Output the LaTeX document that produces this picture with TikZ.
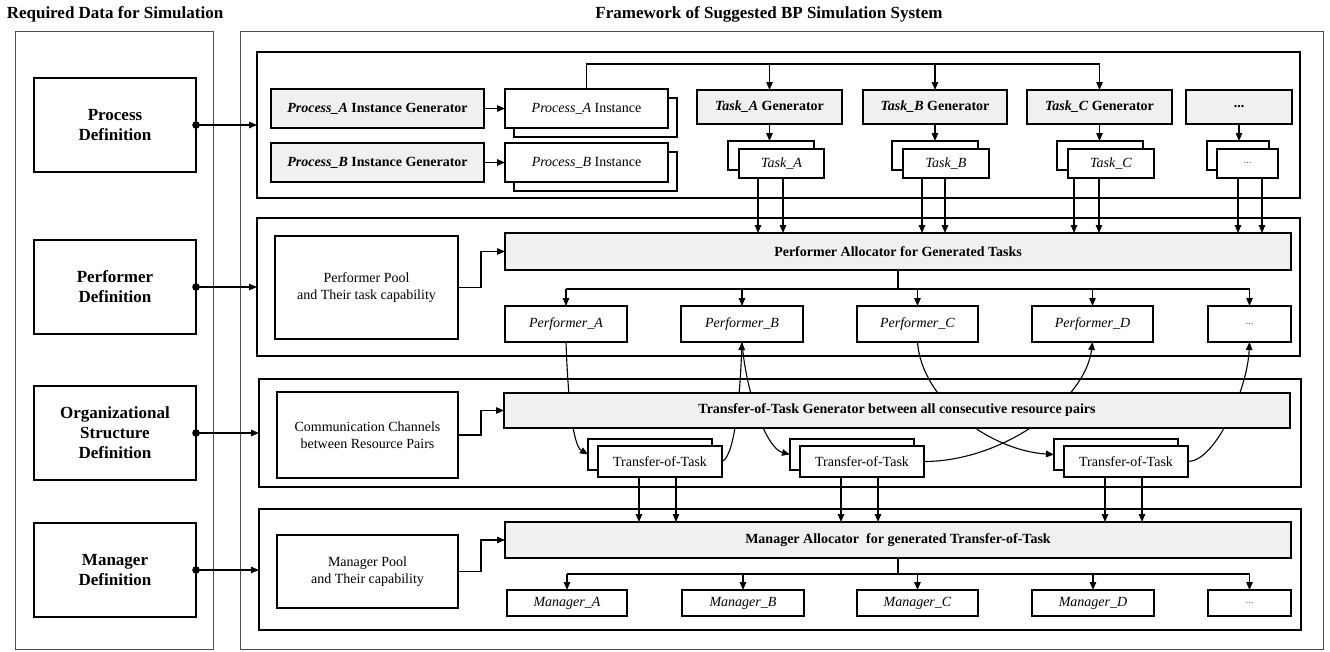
\documentclass[tikz,border=0pt]{standalone}
\usepackage{fontspec}
\setmainfont{Liberation Serif}
\usetikzlibrary{arrows.meta,fit,backgrounds}
\begin{document}
\begin{tikzpicture}[x=1pt,y=-1pt,
  frame/.style={draw=black!70,line width=0.9pt,inner sep=0pt,outer sep=0pt},
  sect/.style={draw,line width=2.9pt,inner sep=0pt,outer sep=0pt},
  defbox/.style={draw,line width=2.5pt,inner sep=0pt,outer sep=0pt,anchor=north west,
     minimum width=162,minimum height=94,align=center,font=\fontsize{17}{20}\selectfont\bfseries},
  box/.style={draw,line width=1.3pt,inner sep=0pt,outer sep=0pt,anchor=north west,fill=white,
     align=center,font=\fontsize{14}{17}\selectfont},
  gbox/.style={box,fill=black!6,font=\fontsize{14}{17}\selectfont\bfseries},
  wh/.style 2 args={minimum width=#1,minimum height=#2},
  heading/.style={font=\fontsize{17}{20}\selectfont\bfseries},
  dotstext/.style={font=\fontsize{10}{12}\selectfont,text=black!70},
  conn/.style={line width=1.1pt},
  arr/.style={conn,-{Triangle[length=8pt,width=6.5pt]}}
]
\useasboundingbox (0,0) rectangle (1330,651);

% headings
\node[heading] (hleft) at (115,14) {Required Data for Simulation};
\node[heading] (hright) at (769,14) {Framework of Suggested BP Simulation System};

% outer frames
\node[frame,fit={(15,31) (213,649)}] (fleft) {};
\node[frame,fit={(240,31) (1323,649)}] (fright) {};

% framework sections
\node[sect,fit={(257,52) (1300,198)}] (sec1) {};
\node[sect,fit={(257,218) (1300,356)}] (sec2) {};
\node[sect,fit={(259,379) (1301,487)}] (sec3) {};
\node[sect,fit={(259,509) (1301,630)}] (sec4) {};

% required data
\node[defbox] (dproc) at (34,78) {Process\\Definition};
\node[defbox] (dperf) at (34,240) {Performer\\Definition};
\node[defbox] (dorg) at (34,386) {Organizational\\Structure\\Definition};
\node[defbox] (dmgr) at (34,523) {Manager\\Definition};
\foreach \d/\s in {dproc/sec1,dperf/sec2,dorg/sec3,dmgr/sec4}{
  \fill (\d.east) circle (3.8);
  \draw[arr] (\d.east) -- (\d.east -| \s.west);
}

% ---- process instances and task generators
\node[gbox,wh={213}{39}] (genA) at (271,89) {\textit{Process\_A} Instance Generator};
\node[gbox,wh={213}{39}] (genB) at (271,143) {\textit{Process\_B} Instance Generator};
\node[box,wh={163}{39}] (instAb) at (514,98) {};
\node[box,wh={163}{39}] (instA) at (505,89) {\textit{Process\_A} Instance};
\node[box,wh={163}{39}] (instBb) at (514,152) {};
\node[box,wh={163}{39}] (instB) at (505,143) {\textit{Process\_B} Instance};
\draw[arr] (genA.east) -- (instA.west);
\draw[arr] (genB.east) -- (instB.west);

\node[gbox,wh={145}{34}] (tgA) at (697,90) {\textit{Task\_A} Generator};
\node[gbox,wh={144}{34}] (tgB) at (863,90) {\textit{Task\_B} Generator};
\node[gbox,wh={145}{34}] (tgC) at (1027,90) {\textit{Task\_C} Generator};
\node[gbox,wh={106}{34}] (tgD) at (1186,90) {...};

\coordinate (bus) at (0,64);
\draw[conn] (instA.north) |- (tgC.north |- bus);
\foreach \g in {tgA,tgB,tgC} \draw[arr] (\g.north |- bus) -- (\g.north);

\node[box,wh={86}{29}] (tAb) at (728,141) {};
\node[box,wh={85}{29}] (tA) at (739,149) {\textit{Task\_A}};
\node[box,wh={86}{29}] (tBb) at (892,141) {};
\node[box,wh={86}{29}] (tB) at (903,149) {\textit{Task\_B}};
\node[box,wh={86}{29}] (tCb) at (1057,141) {};
\node[box,wh={86}{29}] (tC) at (1068,149) {\textit{Task\_C}};
\node[box,wh={62}{29}] (tDb) at (1207,141) {};
\node[box,wh={61}{29},dotstext] (tD) at (1217,149) {...};
\foreach \g/\t in {tgA/tAb,tgB/tBb,tgC/tCb,tgD/tDb}
  \draw[arr] (\g.south) -- (\g.south |- \t.north);

% ---- performer allocation
\node[box,wh={183}{103}] (ppool) at (275,236) {Performer Pool\\and Their task capability};
\node[gbox,wh={786}{37}] (palloc) at (505,233) {Performer Allocator for Generated Tasks};
\draw[arr] (ppool.east) -- ++(23,0) |- (palloc.west);

\foreach \t/\a/\b in {tA/19/44,tB/19/42,tC/6/31,tD/21/45}{
  \path (\t.south west) ++(\a,0) coordinate (p1);
  \path (\t.south west) ++(\b,0) coordinate (p2);
  \draw[arr] (p1) -- (p1 |- palloc.north);
  \draw[arr] (p2) -- (p2 |- palloc.north);
}

\node[box,wh={122}{36}] (pA) at (505,306) {\textit{Performer\_A}};
\node[box,wh={122}{36}] (pB) at (681,306) {\textit{Performer\_B}};
\node[box,wh={121}{36}] (pC) at (857,306) {\textit{Performer\_C}};
\node[box,wh={121}{36}] (pD) at (1032,306) {\textit{Performer\_D}};
\node[box,wh={83}{36},dotstext] (pE) at (1208,306) {...};
\draw[conn] (palloc.south) -- ++(0,19) coordinate (pbr);
\draw[conn] (pA.north |- pbr) -- (pE.north |- pbr);
\foreach \p in {pA,pB,pC,pD,pE} \draw[arr] (\p.north |- pbr) -- (\p.north);

% ---- transfer-of-task generation
\node[box,wh={181}{86}] (comm) at (277,392) {Communication Channels\\between Resource Pairs};
\node[gbox,wh={786}{35}] (tgen) at (504,393) {Transfer-of-Task Generator between all consecutive resource pairs};
\draw[arr] (comm.east) -- ++(23,0) |- (tgen.west);

\node[box,wh={124}{31}] (x1b) at (588,439) {};
\node[box,wh={124}{31}] (x1) at (598,446) {Transfer-of-Task};
\node[box,wh={124}{31}] (x2b) at (790,439) {};
\node[box,wh={124}{31}] (x2) at (800,446) {Transfer-of-Task};
\node[box,wh={124}{31}] (x3b) at (1054,439) {};
\node[box,wh={124}{31}] (x3) at (1064,446) {Transfer-of-Task};

% ---- manager allocation
\node[box,wh={181}{73}] (mpool) at (277,535) {Manager Pool\\and Their capability};
\node[gbox,wh={786}{36}] (malloc) at (505,522) {Manager Allocator~ for generated Transfer-of-Task};
\draw[arr] (mpool.east) -- ++(23,0) |- (malloc.west);

\foreach \t in {x1,x2,x3}{
  \path (\t.south west) ++(41,0) coordinate (q1);
  \path (\t.south west) ++(78,0) coordinate (q2);
  \draw[arr] (q1) -- (q1 |- malloc.north);
  \draw[arr] (q2) -- (q2 |- malloc.north);
}

\node[box,wh={120}{26}] (mA) at (507,590) {\textit{Manager\_A}};
\node[box,wh={122}{26}] (mB) at (682,590) {\textit{Manager\_B}};
\node[box,wh={121}{26}] (mC) at (857,590) {\textit{Manager\_C}};
\node[box,wh={122}{26}] (mD) at (1032,590) {\textit{Manager\_D}};
\node[box,wh={83}{26},dotstext] (mE) at (1208,590) {...};
\draw[conn] (malloc.south) -- ++(0,16) coordinate (mbr);
\draw[conn] (mA.north |- mbr) -- (mE.north |- mbr);
\foreach \m in {mA,mB,mC,mD,mE} \draw[arr] (\m.north |- mbr) -- (\m.north);

% ---- hand-overs between consecutive performers (behind the generator bar)
\begin{pgfonlayer}{background}
\draw[arr] (pA.south) .. controls +(2,58) and +(-15,-9) .. (x1b.west);
\draw[arr] (x1.east) .. controls +(13,-5) and +(-2,53) .. (pB.south);
\draw[arr] (pB.south) .. controls +(4,53) and +(-23,-6) .. (x2b.west);
\draw[arr] (x2.east) .. controls +(80,0) and +(-7,58) .. (pD.south);
\draw[arr] (pC.south) .. controls +(4,58) and +(-64,-4) .. (x3b.west);
\draw[arr] (x3.east) .. controls +(27,0) and +(-2,48) .. (pE.south);
\end{pgfonlayer}
\end{tikzpicture}
\end{document}
